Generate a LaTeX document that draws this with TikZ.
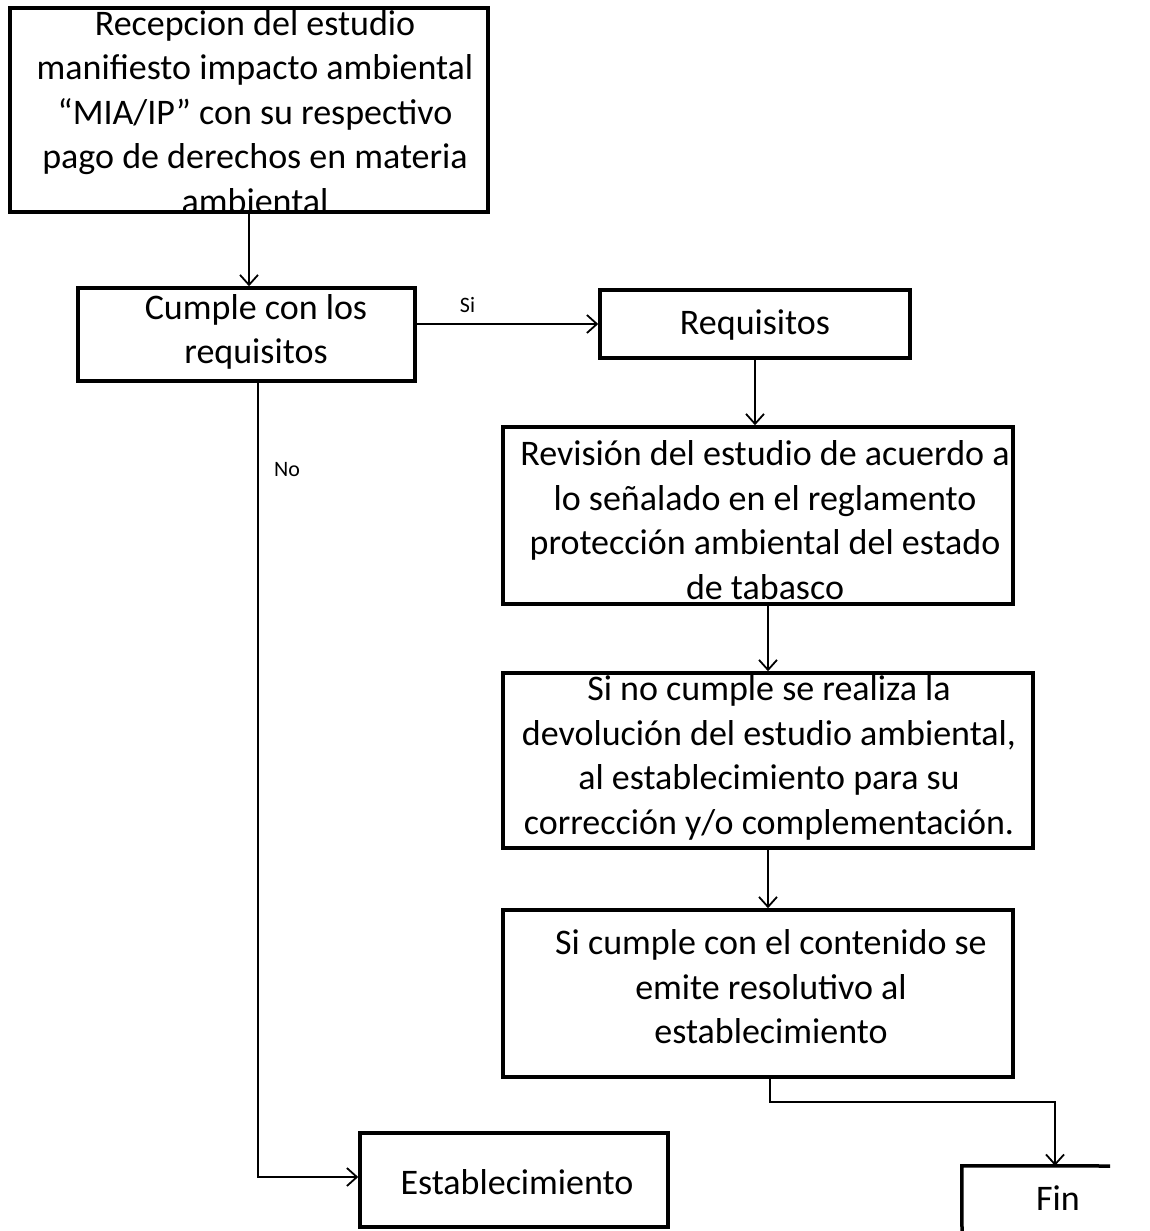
\documentclass[tikz,border=0pt]{standalone}
\usepackage{fontspec}
\setmainfont{Carlito}
\usetikzlibrary{arrows.meta}
\tikzset{
  boxst/.style={draw=black, line width=3.5pt, inner sep=0pt, rectangle},
  txt/.style={inner sep=0pt, align=center, font=\fontsize{36}{44.5}\selectfont},
  small/.style={inner sep=0pt, font=\fontsize{22}{24}\selectfont},
  conn/.style={draw=black, line width=1.8pt},
  arr/.style={conn, -{Straight Barb[length=10pt,width=18pt,line width=1.8pt]}}
}
\begin{document}
\begin{tikzpicture}[x=1pt,y=-1pt]
\useasboundingbox (0,0) rectangle (1149,1231);
% boxes
\node[boxst, minimum width=478pt, minimum height=204pt] (b1) at (249,110) {};
\node[txt] at (255,112) {Recepcion del estudio\\manifiesto impacto ambiental\\``MIA/IP'' con su respectivo\\pago de derechos en materia\\ambiental};
\node[boxst, minimum width=337pt, minimum height=93pt] (b2) at (246.5,334.5) {};
\node[txt] at (256,332) {Cumple con los\\requisitos};
\node[boxst, minimum width=310pt, minimum height=68pt] (b3) at (755,324) {};
\node[txt] at (755,325) {Requisitos};
\node[boxst, minimum width=510pt, minimum height=177pt] (b4) at (758,515.5) {};
\node[txt] at (765,520) {Revisión del estudio de acuerdo a\\lo señalado en el reglamento\\protección ambiental del estado\\de tabasco};
\node[boxst, minimum width=530pt, minimum height=175pt] (b5) at (768,760.5) {};
\node[txt] at (769,758) {Si no cumple se realiza la\\devolución del estudio ambiental,\\al establecimiento para su\\corrección y/o complementación.};
\node[boxst, minimum width=510pt, minimum height=167pt] (b6) at (758,993.5) {};
\node[txt] at (771,987) {Si cumple con el contenido se\\emite resolutivo al\\establecimiento};
\node[boxst, minimum width=308pt, minimum height=94pt] (est) at (514,1180) {};
\node[txt] at (517,1182) {Establecimiento};
\node[inner sep=0pt, minimum width=186pt, minimum height=66pt] (fin) at (1055,1199) {};
\node[txt] at (1058,1198) {Fin};
\draw[line width=3.5pt] (962,1231) -- (fin.north west) -- (1110,1166);
% connectors
\draw[arr] (b1.south) -- (b1.south |- b2.north);
\draw[arr] (b2.east |- b3.west) -- node[small, above=10pt, pos=0.28] {Si} (b3.west);
\draw[arr] (b3.south) -- (b3.south |- b4.north);
\draw[arr] (b4.south -| b5.north) -- (b5.north);
\draw[arr] (b5.south) -- (b5.south |- b6.north);
\coordinate (k1) at (770,1102);
\draw[arr] (b6.south -| k1) -- (k1) -- (k1 -| fin.north) -- (fin.north);
\coordinate (n1) at (258,1177);
\draw[arr] (b2.south -| n1) -- (n1) -- (est.west |- n1);
\node[small] (no) at (287,470) {No};
\end{tikzpicture}
\end{document}
